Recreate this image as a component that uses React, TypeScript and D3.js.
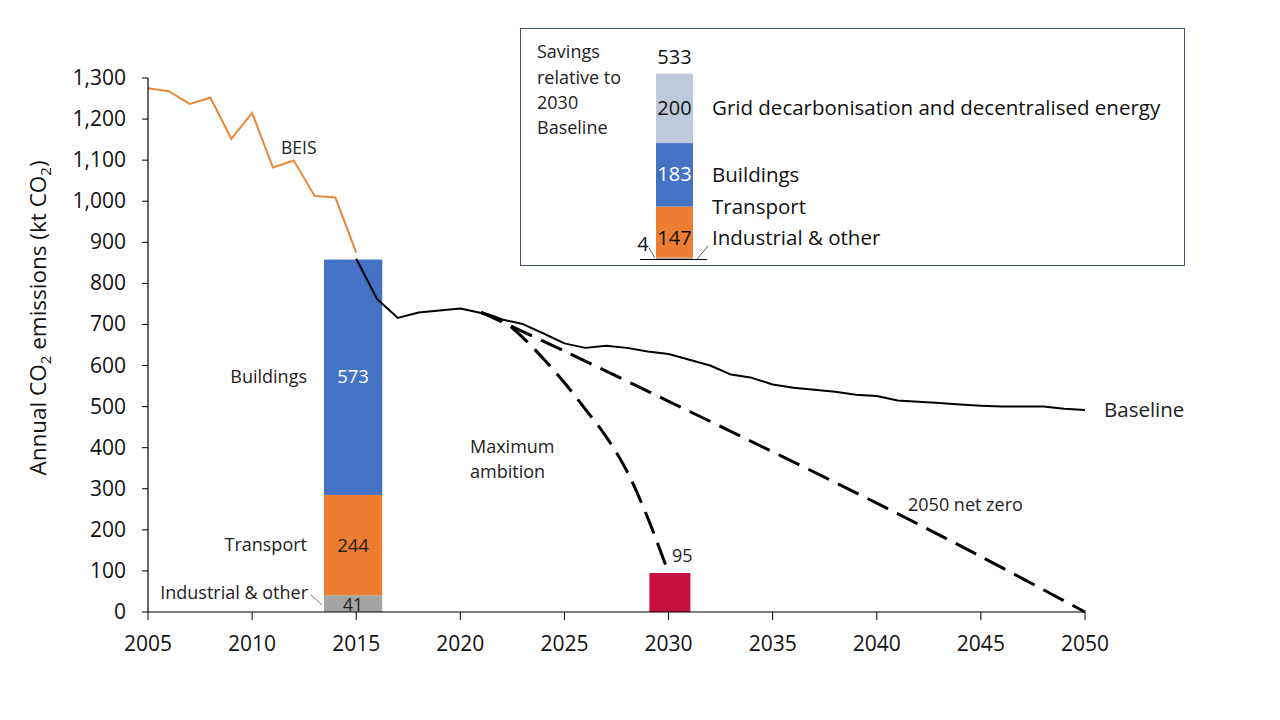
import React from 'react';
import * as d3 from 'd3';

// ---------- Data ----------
const beisYears = [2005, 2006, 2007, 2008, 2009, 2010, 2011, 2012, 2013, 2014, 2015];
const beisValues = [1275, 1268, 1237, 1252, 1152, 1215, 1082, 1099, 1013, 1009, 875];

const baselineYears = [2015, 2016, 2017, 2018, 2019, 2020, 2021, 2022, 2023, 2024, 2025, 2026, 2027, 2028, 2029, 2030, 2031, 2032, 2033, 2034, 2035, 2036, 2037, 2038, 2039, 2040, 2041, 2042, 2043, 2044, 2045, 2046, 2047, 2048, 2049, 2050];
const baselineValues = [860, 762, 716, 729, 734, 739, 728, 712, 701, 678, 654, 643, 648, 643, 634, 628, 614, 600, 578, 570, 554, 546, 541, 536, 529, 526, 515, 512, 509, 505, 502, 500, 500, 500, 495, 492];

const maxAmbitionYears = [2021, 2022, 2023, 2024, 2025, 2026, 2027, 2028, 2029, 2030];
const maxAmbitionValues = [728, 710, 668, 616, 558, 494, 427, 343, 229, 95];

const netZeroYears = [2021, 2025, 2030, 2035, 2040, 2045, 2050];
const netZeroValues = [730, 635, 513, 390, 265, 135, 0];

const stackCategories = ['Industrial & other', 'Transport', 'Buildings'];
const stackValues = [41, 244, 573];
const stackColors = ['#A5A5A5', '#ED7D31', '#4472C4'];
const stackYear = 2015;

const maxAmbition2030 = 95;
const redBarYear = 2030;

const savingsCategories = ['Industrial & other', 'Transport', 'Buildings', 'Grid decarbonisation and decentralised energy'];
const savingsValues = [4, 147, 183, 200];
const savingsColors = ['#A5A5A5', '#ED7D31', '#4472C4', '#BFC9DC'];
const savingsTotal = 533;

const xTicks = [2005, 2010, 2015, 2020, 2025, 2030, 2035, 2040, 2045, 2050];
const yTicks = [0, 100, 200, 300, 400, 500, 600, 700, 800, 900, 1000, 1100, 1200, 1300];

const FONT = '"Open Sans", "Noto Sans", sans-serif';

export default function App() {
  const x = d3.scaleLinear().domain([2005, 2050]).range([148, 1085]);
  const y = d3.scaleLinear().domain([0, 1300]).range([612, 78]);
  const yIn = d3.scaleLinear().domain([0, savingsTotal]).range([259, 74]);
  const fmt = d3.format(',');

  const linear = d3.line<[number, number]>().x(d => x(d[0])).y(d => y(d[1]));
  const smooth = d3.line<[number, number]>().x(d => x(d[0])).y(d => y(d[1])).curve(d3.curveCatmullRom.alpha(0.5));

  const zip = (a: number[], b: number[]) => a.map((v, i) => [v, b[i]] as [number, number]);

  // stacked bar
  let cum = 0;
  const stack = stackValues.map((v, i) => {
    const s = { y0: cum, y1: cum + v, v, c: stackColors[i], k: stackCategories[i] };
    cum += v;
    return s;
  });
  const barX0 = x(stackYear - 1.55);
  const barX1 = x(stackYear + 1.25);

  let cumIn = 0;
  const stackIn = savingsValues.map((v, i) => {
    const s = { y0: cumIn, y1: cumIn + v, v, c: savingsColors[i], k: savingsCategories[i] };
    cumIn += v;
    return s;
  });
  const inX0 = 656;
  const inX1 = 693;

  const redX0 = x(redBarYear - 0.92);
  const redX1 = x(redBarYear + 1.05);

  return (
    <svg width={1280} height={720} style={{ position: 'absolute', left: 0, top: 0, background: '#fff' }} fontFamily={FONT}>
      <rect x={0} y={0} width={1280} height={720} fill="#fff" />

      {/* stacked bar 2015 */}
      {stack.map((s, i) => (
        <rect key={i} x={barX0} width={barX1 - barX0} y={y(s.y1)} height={y(s.y0) - y(s.y1)} fill={s.c} />
      ))}
      <text x={(barX0 + barX1) / 2} y={y(stack[2].y0 + stack[2].v / 2) + 6} textAnchor="middle" fontSize={18.5} fill="#fff">{stackValues[2]}</text>
      <text x={(barX0 + barX1) / 2} y={y(stack[1].y0 + stack[1].v / 2) + 7} textAnchor="middle" fontSize={18.5} fill="#222">{stackValues[1]}</text>
      <text x={(barX0 + barX1) / 2} y={611} textAnchor="middle" fontSize={17.5} fill="#222">{stackValues[0]}</text>
      <text x={307} y={383} textAnchor="end" fontSize={18} fill="#222">{stackCategories[2]}</text>
      <text x={307} y={551} textAnchor="end" fontSize={18} fill="#222">{stackCategories[1]}</text>
      <text x={308} y={599} textAnchor="end" fontSize={18} fill="#222">{stackCategories[0]}</text>
      <line x1={311} y1={595} x2={322} y2={605} stroke="#555" strokeWidth={0.8} />

      {/* red bar 2030 */}
      <rect x={redX0} width={redX1 - redX0} y={y(maxAmbition2030)} height={y(0) - y(maxAmbition2030)} fill="#C3103F" />
      <text x={672} y={562} fontSize={18} fill="#222">{maxAmbition2030}</text>

      {/* lines */}
      <path d={linear(zip(beisYears, beisValues)) || ''} fill="none" stroke="#E8883A" strokeWidth={2} />
      <path d={linear(zip(baselineYears, baselineValues)) || ''} fill="none" stroke="#000" strokeWidth={2} strokeLinejoin="round" />
      <path d={smooth(zip(netZeroYears, netZeroValues)) || ''} fill="none" stroke="#000" strokeWidth={3} strokeDasharray="23,10" />
      <path d={smooth(zip(maxAmbitionYears, maxAmbitionValues)) || ''} fill="none" stroke="#000" strokeWidth={3} strokeDasharray="23,10" />

      {/* line labels */}
      <text x={281} y={154} fontSize={17.5} fill="#222">BEIS</text>
      <text x={470} y={453} fontSize={18} fill="#222">Maximum</text>
      <text x={470} y={478} fontSize={18} fill="#222">ambition</text>
      <text x={908} y={511} fontSize={18} fill="#222">2050 net zero</text>
      <text x={1104} y={417} fontSize={20.5} fill="#222">Baseline</text>

      {/* axes */}
      <line x1={148} y1={y(1300)} x2={148} y2={612} stroke="#000" strokeWidth={1.2} />
      <line x1={148} y1={612} x2={1085} y2={612} stroke="#000" strokeWidth={1.2} />
      {yTicks.map(t => (
        <g key={t}>
          <line x1={142} x2={148} y1={y(t)} y2={y(t)} stroke="#000" strokeWidth={1} />
          <text x={126} y={y(t) + 7} textAnchor="end" fontSize={21} fill="#111">{fmt(t)}</text>
        </g>
      ))}
      {xTicks.map(t => (
        <g key={t}>
          <line x1={x(t)} x2={x(t)} y1={612} y2={620} stroke="#000" strokeWidth={1} />
          <text x={x(t)} y={651} textAnchor="middle" fontSize={21} fill="#111">{t}</text>
        </g>
      ))}
      <text transform="translate(46,318) rotate(-90)" textAnchor="middle" fontSize={22.5} fill="#111">
        Annual CO<tspan fontSize={15} dy={5}>2</tspan><tspan dy={-5}> emissions (kt CO</tspan><tspan fontSize={15} dy={5}>2</tspan><tspan dy={-5}>)</tspan>
      </text>

      {/* inset */}
      <rect x={520.5} y={28.5} width={664} height={237} fill="#fff" stroke="#44546A" strokeWidth={1} />
      {stackIn.map((s, i) => (
        <rect key={i} x={inX0} width={inX1 - inX0} y={yIn(s.y1)} height={yIn(s.y0) - yIn(s.y1)} fill={s.c} />
      ))}
      <line x1={640} x2={707} y1={259.5} y2={259.5} stroke="#000" strokeWidth={1} />
      <text x={537} y={58} fontSize={18} fill="#222">Savings</text>
      <text x={537} y={84} fontSize={18} fill="#222">relative to</text>
      <text x={537} y={109} fontSize={18} fill="#222">2030</text>
      <text x={537} y={134} fontSize={18} fill="#222">Baseline</text>
      <text x={(inX0 + inX1) / 2} y={64} textAnchor="middle" fontSize={20} fill="#111">{savingsTotal}</text>
      <text x={(inX0 + inX1) / 2} y={yIn(stackIn[3].y0 + stackIn[3].v / 2) + 7} textAnchor="middle" fontSize={20} fill="#111">{savingsValues[3]}</text>
      <text x={(inX0 + inX1) / 2} y={181} textAnchor="middle" fontSize={20} fill="#fff">{savingsValues[2]}</text>
      <text x={(inX0 + inX1) / 2} y={245} textAnchor="middle" fontSize={20} fill="#111">{savingsValues[1]}</text>
      <text x={643} y={251} textAnchor="middle" fontSize={20} fill="#111">{savingsValues[0]}</text>
      <line x1={649} y1={248} x2={655} y2={258} stroke="#333" strokeWidth={0.8} />
      <line x1={708} y1={246} x2={697} y2={259} stroke="#333" strokeWidth={0.8} />
      <text x={712} y={115} fontSize={20.5} fill="#111">{savingsCategories[3]}</text>
      <text x={712} y={182} fontSize={20.5} fill="#111">{savingsCategories[2]}</text>
      <text x={712} y={214} fontSize={20.5} fill="#111">{savingsCategories[1]}</text>
      <text x={712} y={245} fontSize={20.5} fill="#111">{savingsCategories[0]}</text>
    </svg>
  );
}
